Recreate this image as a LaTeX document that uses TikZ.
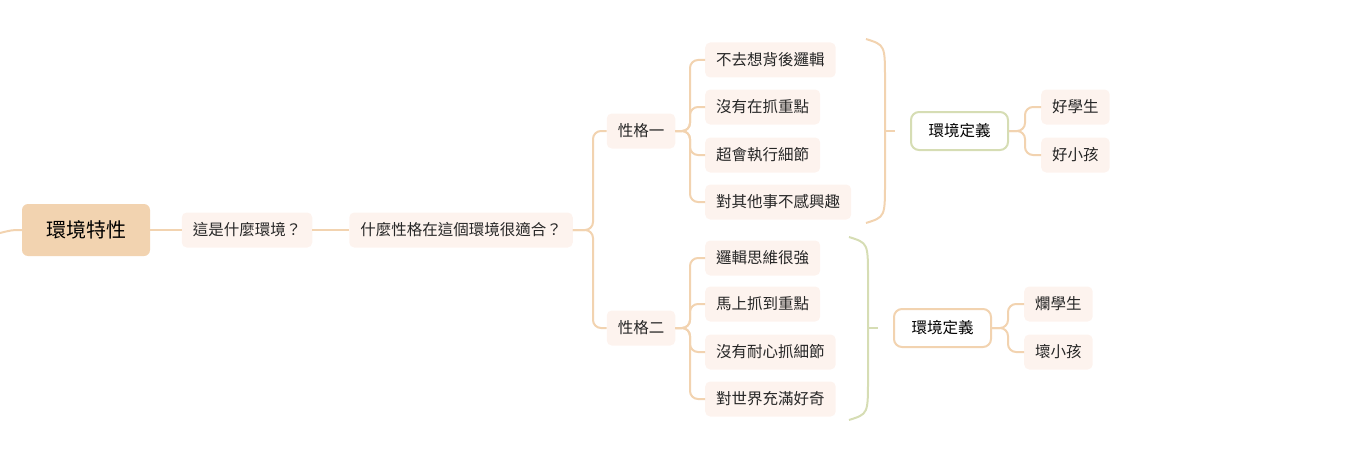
\documentclass[tikz,border=0pt]{standalone}
\usepackage{fontspec}
\setmainfont{Noto Sans CJK TC}
\begin{document}
\begin{tikzpicture}[x=1pt,y=-1pt,
  box/.style={fill=leaf,rounded corners=5pt,minimum height=35pt,inner xsep=11pt,font=\fontsize{15.5}{17}\selectfont,text=black!85},
  defbox/.style={draw=#1,line width=2pt,fill=white,rounded corners=8pt,minimum height=38pt,minimum width=97pt,font=\fontsize{15.5}{17}\selectfont},
  link/.style={draw=peach,line width=2pt,rounded corners=8pt},
]
\definecolor{peach}{HTML}{F2D3B0}
\definecolor{leaf}{HTML}{FDF3EE}
\definecolor{sage}{HTML}{D6DDB4}
\useasboundingbox (0,0) rectangle (1352,460);
\node[fill=peach,rounded corners=6pt,minimum width=128pt,minimum height=52pt,font=\fontsize{20}{22}\selectfont] (root) at (86,230) {環境特性};
\node[box] (q1) at (247,230) {這是什麼環境？};
\node[box] (q2) at (461,230) {什麼性格在這個環境很適合？};
\node[box] (p1) at (641,131) {性格一};
\node[box] (p2) at (641,328) {性格二};
\node[box,anchor=west] (a1) at (705,60) {不去想背後邏輯};
\node[box,anchor=west] (a2) at (705,107) {沒有在抓重點};
\node[box,anchor=west] (a3) at (705,155) {超會執行細節};
\node[box,anchor=west] (a4) at (705,202) {對其他事不感興趣};
\node[box,anchor=west] (b1) at (705,258) {邏輯思維很強};
\node[box,anchor=west] (b2) at (705,304) {馬上抓到重點};
\node[box,anchor=west] (b3) at (705,352) {沒有耐心抓細節};
\node[box,anchor=west] (b4) at (705,399) {對世界充滿好奇};
\node[defbox=sage] (d1) at (959.5,131) {環境定義};
\node[defbox=peach] (d2) at (942.5,328) {環境定義};
\node[box,anchor=west] (g1) at (1041,107) {好學生};
\node[box,anchor=west] (g2) at (1041,155) {好小孩};
\node[box,anchor=west] (h1) at (1024,304) {爛學生};
\node[box,anchor=west] (h2) at (1024,352) {壞小孩};
\coordinate (start) at (0,233);
\draw[link] (start) .. controls (12,230) .. (root.west);
\draw[link] (root) -- (q1) (q1) -- (q2);
\foreach \c in {p1,p2} \draw[link] (q2.east) -- (593,230) |- (\c.west);
\foreach \c in {a1,a2,a3,a4} \draw[link] (p1.east) -- (690,131) |- (\c.west);
\foreach \c in {b1,b2,b3,b4} \draw[link] (p2.east) -- (690,328) |- (\c.west);
\foreach \c in {g1,g2} \draw[link] (d1.east) -- (1025,131) |- (\c.west);
\foreach \c in {h1,h2} \draw[link] (d2.east) -- (1008,328) |- (\c.west);
% braces
\draw[peach,line width=2pt] (866,39) .. controls (885,45) .. (885,80) -- (885,182) .. controls (885,217) .. (866,223);
\coordinate (k1) at (885,131);
\draw[peach,line width=2pt] (k1) -- (895,131);
\draw[sage,line width=2pt] (849,237) .. controls (868,243) .. (868,278) -- (868,379) .. controls (868,414) .. (849,420);
\coordinate (k2) at (868,328);
\draw[sage,line width=2pt] (k2) -- (878,328);
\end{tikzpicture}
\end{document}
